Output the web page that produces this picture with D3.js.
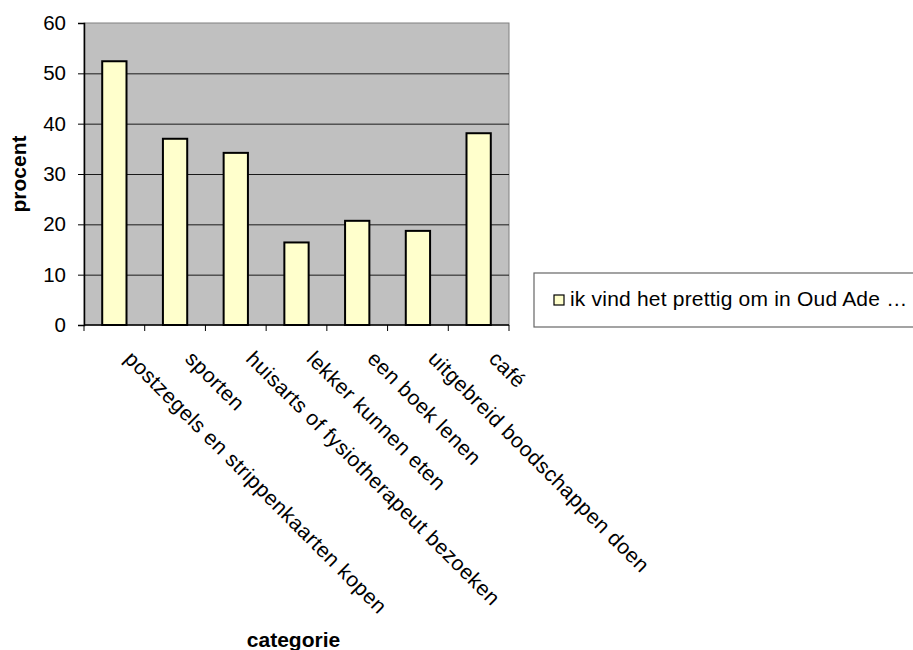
<!DOCTYPE html>
<html>
<head>
<meta charset="utf-8">
<script src="https://cdn.jsdelivr.net/npm/d3@7"></script>
<style>
  html, body { margin: 0; padding: 0; background: #fff; }
  svg { display: block; font-family: "Liberation Sans", Arial, sans-serif; }
</style>
</head>
<body>
<svg id="chart" width="913" height="650"></svg>
<script>
const categories = [
  "postzegels en strippenkaarten kopen",
  "sporten",
  "huisarts of fysiotherapeut bezoeken",
  "lekker kunnen eten",
  "een boek lenen",
  "uitgebreid boodschappen doen",
  "café"
];
const values = [52.4, 37.0, 34.2, 16.4, 20.7, 18.7, 38.1];
const yTicks = [0, 10, 20, 30, 40, 50, 60];
const seriesName = "ik vind het prettig om in Oud Ade …";
const yTitle = "procent";
const xTitle = "categorie";

const svg = d3.select("#chart");
const plot = { left: 84, right: 509, top: 23, bottom: 325 };

const x = d3.scaleBand()
  .domain(categories)
  .range([plot.left, plot.right])
  .paddingInner(0.6)
  .paddingOuter(0.3);
const step = x.step();

const y = d3.scaleLinear().domain([0, 60]).range([plot.bottom, plot.top]);

// plot background
svg.append("rect")
  .attr("x", plot.left).attr("y", plot.top)
  .attr("width", plot.right - plot.left).attr("height", plot.bottom - plot.top)
  .attr("fill", "#c0c0c0").attr("stroke", "#808080").attr("stroke-width", 1);

// gridlines
svg.append("g").selectAll("line")
  .data(yTicks.filter(d => d > 0 && d < 60))
  .join("line")
  .attr("x1", plot.left).attr("x2", plot.right)
  .attr("y1", d => y(d) + 0.5).attr("y2", d => y(d) + 0.5)
  .attr("stroke", "#1a1a1a").attr("stroke-width", 1);

// bars
svg.append("g").selectAll("rect")
  .data(categories)
  .join("rect")
  .attr("x", d => x(d))
  .attr("y", (d, i) => y(values[i]))
  .attr("width", x.bandwidth())
  .attr("height", (d, i) => y(0) - y(values[i]))
  .attr("fill", "#ffffcc")
  .attr("stroke", "#000")
  .attr("stroke-width", 2);

// y axis
const yAxis = d3.axisLeft(y).tickValues(yTicks).tickSize(6).tickPadding(12);
const gy = svg.append("g").attr("transform", `translate(${plot.left},0)`).call(yAxis);
gy.select(".domain").attr("stroke", "#000").attr("stroke-width", 1.5);
gy.selectAll(".tick line").attr("stroke", "#000");
gy.selectAll(".tick text")
  .attr("font-size", 20.5).attr("fill", "#000")
  .attr("font-family", "Liberation Sans, Arial, sans-serif");

// x axis line + ticks at category boundaries
svg.append("line")
  .attr("x1", plot.left).attr("x2", plot.right)
  .attr("y1", plot.bottom).attr("y2", plot.bottom)
  .attr("stroke", "#000").attr("stroke-width", 1.5);
const boundaries = d3.range(categories.length + 1).map(i => plot.left + i * step);
svg.append("g").selectAll("line")
  .data(boundaries)
  .join("line")
  .attr("x1", d => d).attr("x2", d => d)
  .attr("y1", plot.bottom).attr("y2", plot.bottom + 6)
  .attr("stroke", "#000").attr("stroke-width", 1);

// category labels
svg.append("g").selectAll("text")
  .data(categories)
  .join("text")
  .attr("transform", d => `translate(${x(d) + x.bandwidth() / 2 + 9},${plot.bottom + 35}) rotate(45)`)
  .attr("text-anchor", "start")
  .attr("font-size", 21)
  .attr("letter-spacing", 0.5)
  .attr("fill", "#000")
  .text(d => d);

// axis titles
svg.append("text")
  .attr("transform", `translate(26,${(plot.top + plot.bottom) / 2}) rotate(-90)`)
  .attr("text-anchor", "middle")
  .attr("font-size", 21).attr("font-weight", "bold")
  .text(yTitle);
svg.append("text")
  .attr("x", (plot.left + plot.right) / 2 - 3).attr("y", 647)
  .attr("text-anchor", "middle")
  .attr("font-size", 21).attr("font-weight", "bold")
  .text(xTitle);

// legend
const lg = svg.append("g");
lg.append("rect")
  .attr("x", 534).attr("y", 273).attr("width", 420).attr("height", 54)
  .attr("fill", "#fff").attr("stroke", "#666").attr("stroke-width", 1.2);
lg.append("rect")
  .attr("x", 554).attr("y", 295).attr("width", 10).attr("height", 10)
  .attr("fill", "#ffffcc").attr("stroke", "#000").attr("stroke-width", 1.2);
lg.append("text")
  .attr("x", 570).attr("y", 306)
  .attr("font-size", 21).attr("letter-spacing", 0.2).attr("fill", "#000")
  .text(seriesName);
</script>
</body>
</html>
